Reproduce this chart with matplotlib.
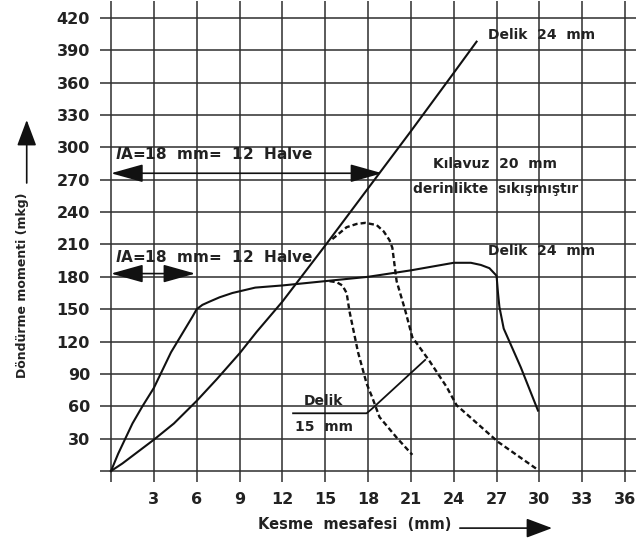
import numpy as np
import matplotlib
matplotlib.use("Agg")
from matplotlib import pyplot as plt

plt.rcParams['font.family'] = ['DejaVu Sans']
plt.rcParams['font.weight'] = 'bold'

# tick values
x_ticks = [3, 6, 9, 12, 15, 18, 21, 24, 27, 30, 33, 36]
y_ticks = [30, 60, 90, 120, 150, 180, 210, 240, 270, 300, 330, 360, 390, 420]

# Delik 24 mm (straight rising line)
x_d24a = [0, 0.8, 1.5, 3, 4.4, 6, 7.4, 9, 10.2, 12, 15, 18, 21, 24, 25.6]
y_d24a = [0, 7, 14, 29, 44, 65, 85, 109, 129, 157, 209, 262, 315, 369, 398]

# Delik 24 mm (solid, plateau then drop)
x_d24b = [0, 0.5, 1.0, 1.5, 2.2, 3, 4.2, 5.2, 5.7, 6, 6.4, 6.9, 7.6, 8.5, 10.1, 12, 15, 18, 21,
          24, 25.2, 25.9, 26.5, 27, 27.1, 27.2, 27.5, 28.7, 29.9]
y_d24b = [0, 16, 30, 44, 60, 77, 110, 132, 143, 150, 154, 157, 161, 165, 170, 172, 176, 180, 186,
          193, 193, 191, 188, 181, 165, 152, 132, 96, 56]

# Delik 15 mm (dashed, short)
x_d15 = [15.3, 15.8, 16.2, 16.5, 16.7, 17.3, 17.9, 18.3, 18.8, 20.0, 21.1]
y_d15 = [176, 175, 172, 165, 148, 110, 81, 68, 50, 31, 15]

# Kilavuz sikismis (dashed, long)
x_kl = [15.5, 16.5, 17.2, 17.8, 18.6, 19.1, 19.5, 19.7, 20.0, 20.6, 21.1, 22.3, 23.5, 24.2, 27.1, 29.9]
y_kl = [215, 226, 229, 230, 228, 222, 214, 207, 176, 149, 124, 102, 78, 61, 27, 1]

# leader for "Delik 15 mm"
x_lead = [12.75, 17.9, 18.3, 22.0]
y_lead = [53.5, 53.5, 58, 103]

fig = plt.figure(figsize=(6.36, 5.45), dpi=100)
ax = fig.add_axes([0.1566, 0.116, 0.8442, 0.8828])
ax.set_xlim(-0.8, 36.8)
ax.set_ylim(-10, 436)

grid_c = '#2e2e2e'
ax.vlines([0] + x_ticks, -10, 436, color=grid_c, lw=1.1, zorder=1)
ax.hlines([0] + y_ticks, -0.8, 36.8, color=grid_c, lw=1.1, zorder=1)

ax.plot(x_d24a, y_d24a, color='#111', lw=1.5, zorder=3)
ax.plot(x_d24b, y_d24b, color='#111', lw=1.5, zorder=3)
ax.plot(x_d15, y_d15, color='#111', lw=1.7, ls=(0, (2.2, 1.3)), zorder=3)
ax.plot(x_kl, y_kl, color='#111', lw=1.7, ls=(0, (2.2, 1.3)), zorder=3)
ax.plot(x_lead, y_lead, color='#111', lw=1.3, zorder=3)

for s in ax.spines.values():
    s.set_visible(False)
ax.set_xticks(x_ticks)
ax.set_yticks(y_ticks)
ax.tick_params(length=0, labelsize=11.5, pad=7, colors='#222')

arr = dict(arrowstyle='<|-|>,head_length=1.0,head_width=0.28', mutation_scale=20,
           color='#111', lw=1.2, shrinkA=0, shrinkB=0)
ax.annotate('', xy=(0, 276), xytext=(19, 276), arrowprops=arr, zorder=4)
ax.annotate('', xy=(0, 183), xytext=(5.9, 183), arrowprops=arr, zorder=4)

lbl = '$l$A=18  mm=  12  Halve'
ax.text(0.3, 294, lbl, fontsize=11, va='center', ha='left', color='#222')
ax.text(0.3, 198, lbl, fontsize=11, va='center', ha='left', color='#222')

ax.text(26.4, 404, 'Delik  24  mm', fontsize=10, va='center', ha='left', color='#222')
ax.text(26.4, 204, 'Delik  24  mm', fontsize=10, va='center', ha='left', color='#222')
ax.text(26.9, 285, 'Kılavuz  20  mm', fontsize=10, va='center', ha='center', color='#222')
ax.text(26.9, 261, 'derinlikte  sıkışmıştır', fontsize=10, va='center', ha='center', color='#222')
ax.text(14.85, 65, 'Delik', fontsize=10, va='center', ha='center', color='#222')
ax.text(14.9, 41, '15  mm', fontsize=10, va='center', ha='center', color='#222')

fig.text(0.035, 0.477, 'Döndürme momenti (mkg)', rotation=90, fontsize=9,
         va='center', ha='center', color='#222')
fig.text(0.558, 0.037, 'Kesme  mesafesi  (mm)', fontsize=10.5,
         va='center', ha='center', color='#222')
head = dict(arrowstyle='-|>,head_length=0.8,head_width=0.3', mutation_scale=20,
            color='#111', lw=1.2, shrinkA=0, shrinkB=0)
fig.add_artist(matplotlib.patches.FancyArrowPatch((0.723, 0.031), (0.868, 0.031),
                                                  transform=fig.transFigure, **head))
fig.add_artist(matplotlib.patches.FancyArrowPatch((0.042, 1 - 183 / 545), (0.042, 1 - 120 / 545),
                                                  transform=fig.transFigure, **head))

fig.savefig('out.png', dpi=100)
